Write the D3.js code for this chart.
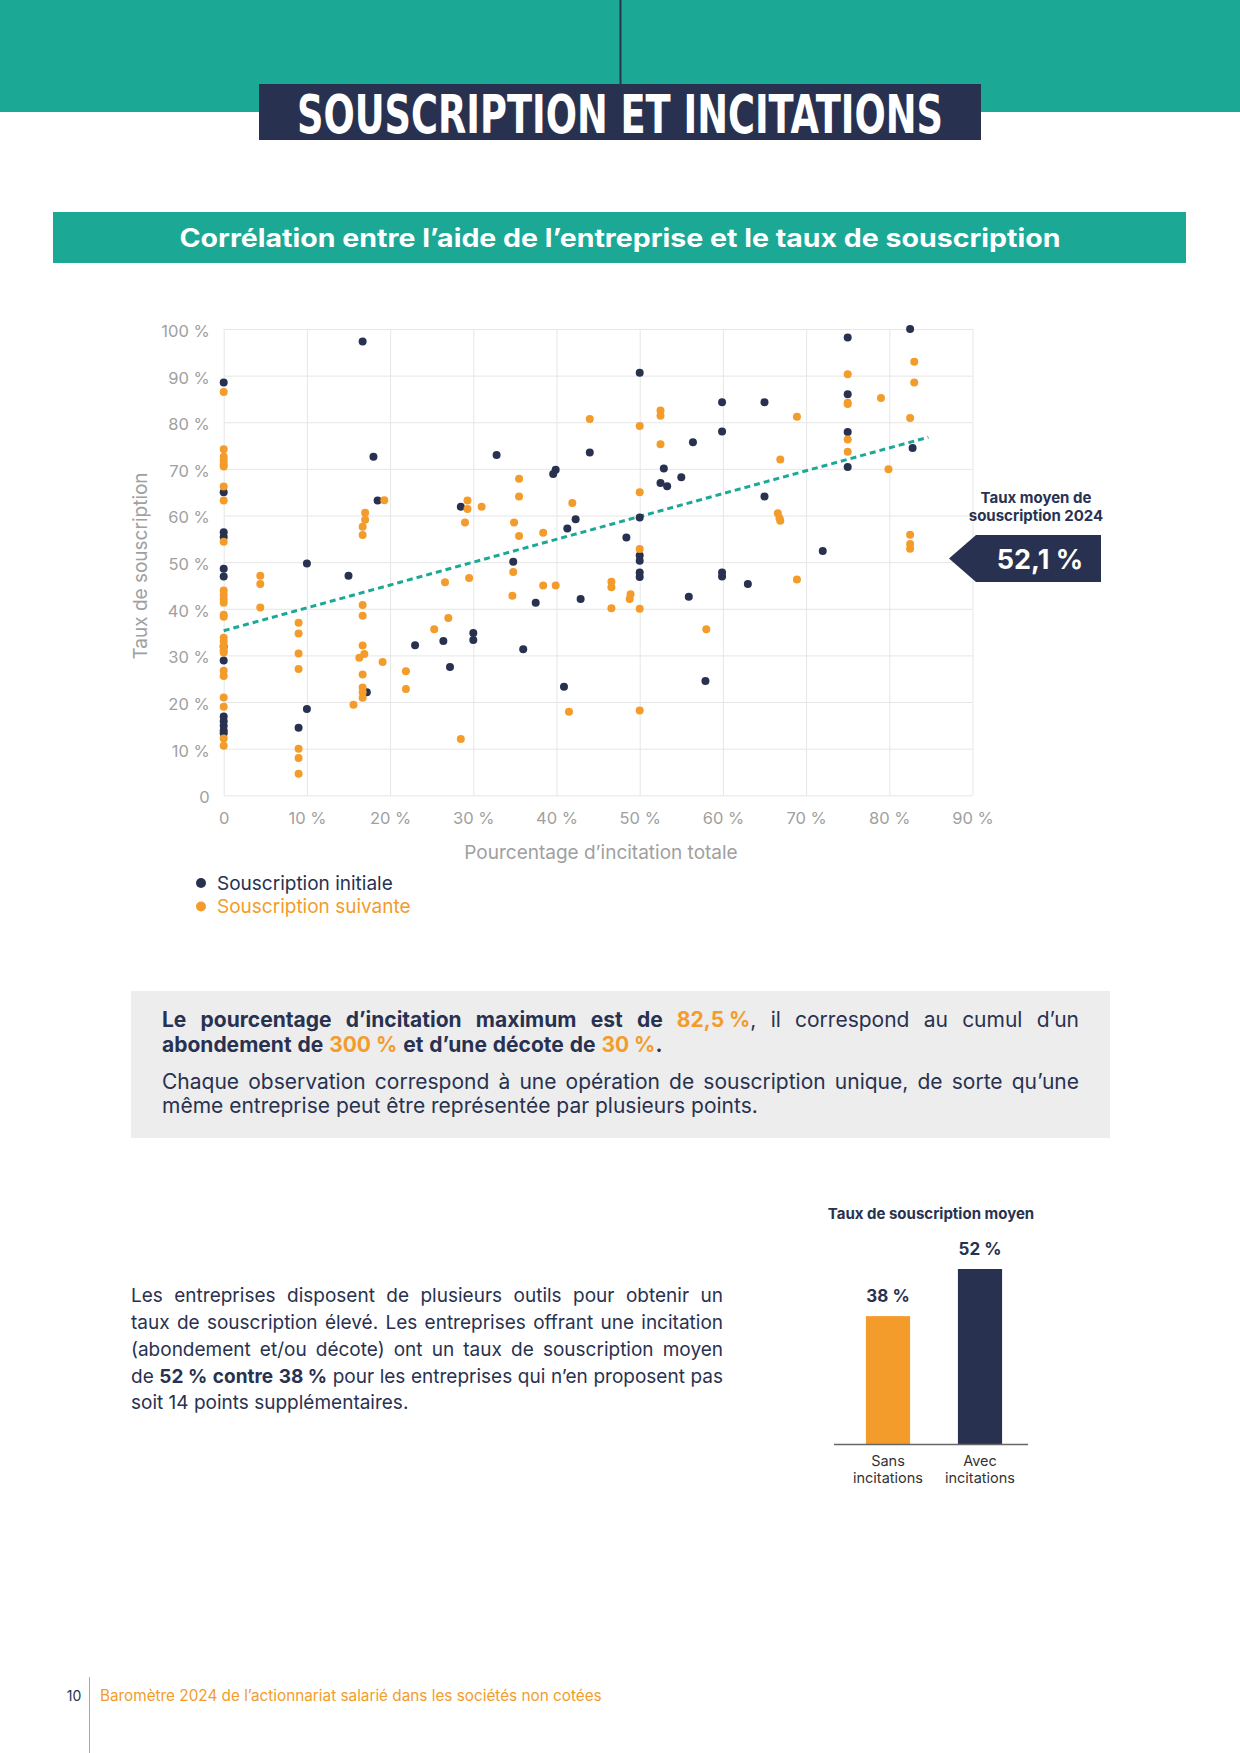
<!DOCTYPE html>
<html><head><meta charset="utf-8">
<script src="https://cdn.jsdelivr.net/npm/d3@7"></script>
<style>
html,body{margin:0;padding:0;background:#fff;}
svg{display:block;}
</style></head><body>
<svg id="page" width="1240" height="1753"></svg>
<script>
// ---------------- DATA ----------------
const xTicks = [0,10,20,30,40,50,60,70,80,90];
const yTicks = [0,10,20,30,40,50,60,70,80,90,100];
const seriesNames = ["Souscription initiale","Souscription suivante"];
// [pourcentage d'incitation totale, taux de souscription]
const souscriptionInitiale = [
 [0,88.5],[0,65.0],[0,56.4],[0,55.4],[0,48.6],[0,46.9],[0,31.9],[0,28.9],[0,16.9],[0,15.9],[0,14.9],[0,13.9],[0,13.3],
 [9.0,14.5],[10.0,49.7],[10.0,18.5],[15.0,47.1],[16.7,97.3],[18.0,72.6],[18.5,63.2],[17.2,22.1],[23.0,32.2],
 [26.4,33.1],[27.2,27.5],[28.5,61.9],[30.0,34.8],[30.0,33.3],[32.8,73.0],[34.8,50.1],[36.0,31.3],[37.5,41.3],
 [39.9,69.8],[39.6,68.9],[40.9,23.3],[41.3,57.2],[42.3,59.2],[42.9,42.1],[44.0,73.5],[48.4,55.3],[50,90.6],
 [50,59.6],[50,51.4],[50,50.3],[50,47.8],[50,46.8],[52.9,70.1],[52.5,67.0],[53.3,66.3],[55.0,68.2],[55.9,42.6],
 [56.4,75.7],[57.9,24.5],[59.9,84.3],[59.9,78.0],[59.9,47.8],[59.9,46.9],[63.0,45.3],[65.0,84.3],[65.0,64.1],
 [72.0,52.4],[75.0,98.2],[75.0,86.0],[75.0,77.9],[75.0,70.4],[82.5,100],[82.8,74.5]
];
const souscriptionSuivante = [
 [0,86.5],[0,74.2],[0,72.6],[0,71.8],[0,71.0],[0,70.5],[0,66.2],[0,63.2],[0,54.4],[0,43.9],[0,43.0],[0,42.1],[0,41.3],
 [0,38.7],[0,38.3],[0,33.8],[0,33.0],[0,32.0],[0,31.1],[0,30.6],[0,26.7],[0,25.6],[0,21.0],[0,19.0],[0,12.2],[0,10.6],
 [4.4,47.1],[4.4,45.3],[4.4,40.3],
 [9.0,37.0],[9.0,34.7],[9.0,30.4],[9.0,27.1],[9.0,10.0],[9.0,8.0],[9.0,4.6],
 [15.6,19.4],[16.3,29.5],[16.7,57.6],[16.7,55.8],[17.0,60.6],[17.0,59.1],[16.7,40.8],[16.7,38.5],[16.7,32.1],
 [16.9,30.3],[16.7,25.9],[16.7,23.1],[16.7,22.1],[16.7,20.9],[19.1,28.6],[19.3,63.3],[21.9,26.6],[21.9,22.8],
 [25.3,35.6],[26.6,45.7],[27.0,38.0],[28.5,12.1],[29.0,58.5],[29.3,63.2],[29.3,61.4],[29.5,46.6],[31.0,61.9],
 [34.7,42.8],[34.8,47.9],[34.9,58.5],[35.5,67.9],[35.5,64.1],[35.5,55.6],[38.4,56.3],[38.4,45.0],[39.9,45.0],
 [41.5,17.9],[41.9,62.7],[44.0,80.7],[46.6,45.8],[46.6,44.6],[46.6,40.1],[48.8,42.1],[48.9,43.1],
 [50,79.2],[50,65.0],[50,52.8],[50,40.0],[50,18.2],[52.5,82.5],[52.5,81.4],[52.5,75.3],[58.0,35.6],
 [66.6,60.5],[66.8,59.4],[66.9,58.9],[66.9,72.0],[68.9,81.2],[68.9,46.3],[75,90.3],[75,84.2],[75,83.9],
 [75,76.3],[75,73.7],[79.0,85.2],[79.9,69.9],[82.5,80.9],[82.5,55.9],[82.5,53.9],[82.5,52.9],[83.0,93.0],[83.0,88.5]
];
const trendX = [0, 84.7];
const trendY = [35.3, 76.8];
const moyenne2024 = 52.1;
const barCategories = ["Sans incitations","Avec incitations"];
const barValues = [38, 52];

// ---------------- STYLE ----------------
const NAVY="#283250", ORANGE="#F39C2B", TEAL="#1BA996", GRAY="#a0a0a0", GRID="#e6e6e6";
const FONT="Inter, 'Open Sans', sans-serif";
const svg=d3.select("#page");
const fr = v => String(v).replace(".", ",");

// ---------------- HEADER ----------------
svg.append("rect").attr("x",0).attr("y",0).attr("width",1240).attr("height",112).attr("fill",TEAL);
svg.append("line").attr("x1",620.5).attr("x2",620.5).attr("y1",0).attr("y2",84).attr("stroke",NAVY).attr("stroke-width",2);
svg.append("rect").attr("x",259).attr("y",84).attr("width",722).attr("height",56).attr("fill",NAVY);
svg.append("text").attr("x",620).attr("y",133).attr("text-anchor","middle")
  .attr("font-family","'Liberation Sans Narrow','DejaVu Sans Condensed',sans-serif").attr("font-weight",700)
  .attr("font-size",54).attr("fill","#fff").attr("textLength",646).attr("lengthAdjust","spacingAndGlyphs")
  .text("SOUSCRIPTION ET INCITATIONS");
svg.append("rect").attr("x",53).attr("y",212).attr("width",1133).attr("height",51).attr("fill",TEAL);
svg.append("text").attr("x",620).attr("y",247).attr("text-anchor","middle")
  .attr("font-family",FONT).attr("font-weight",700).attr("font-size",25).attr("fill","#fff")
  .attr("textLength",881).attr("lengthAdjust","spacingAndGlyphs")
  .text("Corrélation entre l’aide de l’entreprise et le taux de souscription");

// ---------------- SCATTER ----------------
const x = d3.scaleLinear().domain([0,90]).range([223.7,972.5]);
const y = d3.scaleLinear().domain([0,100]).range([795.3,329]);
const plotW = x(90)-x(0), plotH = y(0)-y(100);
const chart = svg.append("g");

const xAxis = chart.append("g").attr("transform",`translate(0,${y(0)})`)
  .call(d3.axisBottom(x).tickValues(xTicks).tickSize(-plotH).tickPadding(17)
    .tickFormat(d => d===0 ? "0" : d+" %"));
const yAxis = chart.append("g").attr("transform",`translate(${x(0)},0)`)
  .call(d3.axisLeft(y).tickValues(yTicks).tickSize(-plotW).tickPadding(14)
    .tickFormat(d => d===0 ? "0" : d+" %"));
[xAxis,yAxis].forEach(a=>{
  a.select(".domain").remove();
  a.selectAll(".tick line").attr("stroke",GRID).attr("stroke-width",1);
  a.selectAll(".tick text").attr("fill",GRAY).attr("font-family",FONT).attr("font-size",16.5);
});
yAxis.selectAll(".tick text").attr("dy","0.45em");

chart.append("text").attr("x",601).attr("y",859).attr("text-anchor","middle")
  .attr("font-family",FONT).attr("font-size",19).attr("fill",GRAY).text("Pourcentage d’incitation totale");
chart.append("text").attr("transform","translate(147,566) rotate(-90)").attr("text-anchor","middle")
  .attr("font-family",FONT).attr("font-size",19).attr("fill",GRAY).text("Taux de souscription");

chart.append("path")
  .datum(trendX.map((d,i)=>[d,trendY[i]]))
  .attr("d", d3.line().x(d=>x(d[0])).y(d=>y(d[1])))
  .attr("fill","none").attr("stroke",TEAL).attr("stroke-width",3).attr("stroke-dasharray","6,4");

chart.append("g").selectAll("circle").data(souscriptionInitiale).join("circle")
  .attr("cx",d=>x(d[0])).attr("cy",d=>y(d[1])).attr("r",4).attr("fill",NAVY);
chart.append("g").selectAll("circle").data(souscriptionSuivante).join("circle")
  .attr("cx",d=>x(d[0])).attr("cy",d=>y(d[1])).attr("r",4).attr("fill",ORANGE);

// legend
const legColors=[NAVY,ORANGE];
const leg = svg.append("g");
seriesNames.forEach((n,i)=>{
  leg.append("circle").attr("cx",201).attr("cy",883+i*23.5).attr("r",5).attr("fill",legColors[i]);
  leg.append("text").attr("x",217).attr("y",889.5+i*23.5).attr("font-family",FONT).attr("font-size",19)
    .attr("fill",legColors[i]).text(n);
});

// annotation
const ann = svg.append("g");
ann.append("text").attr("x",1036).attr("y",503).attr("text-anchor","middle").attr("font-family",FONT)
  .attr("font-weight",700).attr("font-size",15).attr("fill",NAVY).text("Taux moyen de");
ann.append("text").attr("x",1036).attr("y",521).attr("text-anchor","middle").attr("font-family",FONT)
  .attr("font-weight",700).attr("font-size",15).attr("fill",NAVY).text("souscription 2024");
ann.append("path").attr("d","M976,535 L1101,535 L1101,582 L976,582 L949,558.5 Z").attr("fill",NAVY);
ann.append("text").attr("x",1040).attr("y",569).attr("text-anchor","middle").attr("font-family",FONT)
  .attr("font-weight",700).attr("font-size",27).attr("fill","#fff").text(fr(moyenne2024)+"\u00A0%");

// ---------------- TEXT HELPERS ----------------
function block(parent, lines, x0, width, ys, size){
  let s=size;
  for(let iter=0; iter<2; iter++){
    const g=parent.append("g");
    const probe=(t,b)=>{const n=g.append("text").attr("font-family",FONT).attr("font-size",s).attr("font-weight",b?700:400).text(t);const w=n.node().getComputedTextLength();n.remove();return w;};
    const sp = probe("a a") - probe("aa");
    let maxRatio=0;
    const layouts = lines.map((ln,li)=>{
      const words=[]; let cur=[];
      ln.segs.forEach(sg=>{
        sg.t.split(/( )/).forEach(p=>{
          if(p===" "){ if(cur.length){words.push(cur);cur=[];} }
          else if(p!==""){ cur.push({t:p,b:sg.b,c:sg.c||NAVY}); }
        });
      });
      if(cur.length) words.push(cur);
      const nodes=words.map(w=>{
        const t=g.append("text").attr("y",ys[li]).attr("font-size",s).attr("font-family",FONT);
        w.forEach(p=>t.append("tspan").text(p.t).attr("font-weight",p.b?700:400).attr("fill",p.c));
        return t;
      });
      const widths=nodes.map(n=>n.node().getComputedTextLength());
      const nat=d3.sum(widths)+sp*(nodes.length-1);
      if(ln.justify) maxRatio=Math.max(maxRatio, nat/width);
      return {nodes,widths,justify:ln.justify};
    });
    if(maxRatio>1 && iter===0){ g.remove(); s=s/maxRatio*0.985; continue; }
    layouts.forEach(L=>{
      const tot=d3.sum(L.widths);
      const gap = (L.justify && L.nodes.length>1) ? (width-tot)/(L.nodes.length-1) : sp;
      let cx=x0; L.nodes.forEach((n,i)=>{n.attr("x",cx); cx+=L.widths[i]+gap;});
    });
    break;
  }
}

// ---------------- NOTE BOX ----------------
svg.append("rect").attr("x",131).attr("y",991).attr("width",979).attr("height",147).attr("fill","#ededed");
block(svg, [
  {justify:true, segs:[{t:"Le pourcentage d’incitation maximum est de ",b:1},{t:"82,5\u00A0%",b:1,c:ORANGE},{t:", il correspond au cumul d’un"}]},
  {justify:false, segs:[{t:"abondement de ",b:1},{t:"300\u00A0%",b:1,c:ORANGE},{t:" et d’une décote de ",b:1},{t:"30\u00A0%",b:1,c:ORANGE},{t:".",b:1}]},
  {justify:true, segs:[{t:"Chaque observation correspond à une opération de souscription unique, de sorte qu’une"}]},
  {justify:false, segs:[{t:"même entreprise peut être représentée par plusieurs points."}]}
], 162, 917, [1027,1052,1089,1113], 21);

// ---------------- PARAGRAPH ----------------
block(svg, [
  {justify:true, segs:[{t:"Les entreprises disposent de plusieurs outils pour obtenir un"}]},
  {justify:true, segs:[{t:"taux de souscription élevé. Les entreprises offrant une incitation"}]},
  {justify:true, segs:[{t:"(abondement et/ou décote) ont un taux de souscription moyen"}]},
  {justify:true, segs:[{t:"de "},{t:"52\u00A0% contre 38\u00A0%",b:1},{t:" pour les entreprises qui n’en proposent pas"}]},
  {justify:false, segs:[{t:"soit 14 points supplémentaires."}]}
], 131, 592, [1302,1329,1356,1383,1409], 19);

// ---------------- BAR CHART ----------------
const xb = d3.scaleBand().domain(barCategories).range([842,1026]).paddingInner(0.52).paddingOuter(0.26);
const yb = d3.scaleLinear().domain([0,52]).range([1444,1269]);
const barColors=[ORANGE,NAVY];
const bc = svg.append("g");
bc.append("text").attr("x",931).attr("y",1219).attr("text-anchor","middle").attr("font-family",FONT)
  .attr("font-weight",700).attr("font-size",15).attr("fill",NAVY).text("Taux de souscription moyen");
bc.selectAll("rect").data(barCategories).join("rect")
  .attr("x",d=>xb(d)).attr("width",xb.bandwidth())
  .attr("y",(d,i)=>yb(barValues[i])).attr("height",(d,i)=>yb(0)-yb(barValues[i]))
  .attr("fill",(d,i)=>barColors[i]);
bc.selectAll("text.val").data(barCategories).join("text").attr("class","val")
  .attr("x",d=>xb(d)+xb.bandwidth()/2).attr("y",(d,i)=>yb(barValues[i])-14)
  .attr("text-anchor","middle").attr("font-family",FONT).attr("font-weight",700).attr("font-size",17)
  .attr("fill",NAVY).text((d,i)=>barValues[i]+"\u00A0%");
const xbAxis = bc.append("g").attr("transform",`translate(0,${yb(0)})`)
  .call(d3.axisBottom(xb).tickSize(0).tickFormat(""));
xbAxis.select(".domain").attr("d","M834,0.5H1028").attr("stroke","#666").attr("stroke-width",1.3);
barCategories.forEach(c=>{
  c.split(" ").forEach((p,j)=>{
    bc.append("text").attr("x",xb(c)+xb.bandwidth()/2).attr("y",1466+j*17).attr("text-anchor","middle")
      .attr("font-family",FONT).attr("font-size",14.5).attr("fill","#333").text(p);
  });
});

// ---------------- FOOTER ----------------
svg.append("line").attr("x1",89.5).attr("x2",89.5).attr("y1",1677).attr("y2",1753).attr("stroke",ORANGE).attr("stroke-width",1);
svg.append("text").attr("x",74).attr("y",1701).attr("text-anchor","middle").attr("font-family",FONT)
  .attr("font-size",14).attr("fill",NAVY).text("10");
svg.append("text").attr("x",100).attr("y",1701).attr("font-family",FONT)
  .attr("font-size",15.3).attr("fill",ORANGE).text("Baromètre 2024 de l’actionnariat salarié dans les sociétés non cotées");
</script>
</body></html>
